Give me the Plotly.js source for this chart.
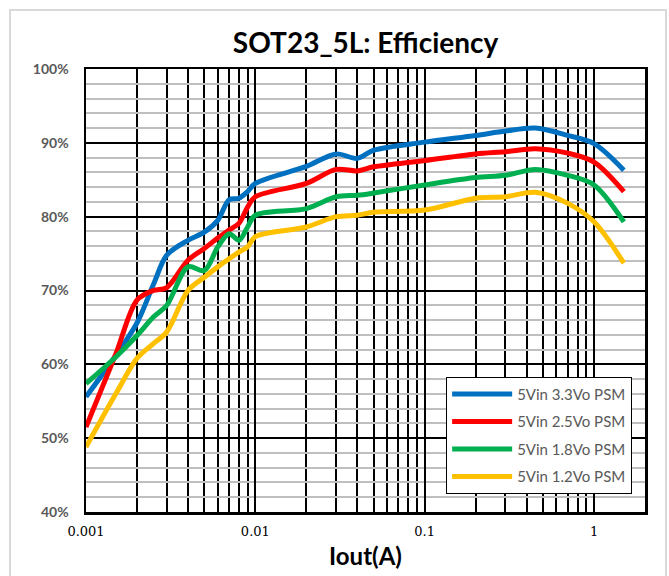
<!DOCTYPE html>
<html>
<head>
<meta charset="utf-8">
<script src="https://cdn.plot.ly/plotly-3.0.1.min.js"></script>
<style>
  html, body { margin: 0; padding: 0; background: #ffffff; }
  #frame { position: absolute; left: 9px; top: 9px; width: 654px; height: 620px; border: 2px solid #d9d9d9; }
  #chart { position: absolute; left: 0; top: 0; width: 669px; height: 576px; }
</style>
</head>
<body>
<div id="frame"></div>
<div id="chart"></div>
<script>
// Load current (A)
const iout = [0.001, 0.0015, 0.002, 0.0025, 0.003, 0.004, 0.005, 0.006, 0.007, 0.008, 0.009, 0.01,
              0.02, 0.03, 0.04, 0.05, 0.1, 0.2, 0.3, 0.45, 0.7, 1, 1.5];
// Efficiency (%)
const eff33 = [55.6, 61.2, 65.6, 70.8, 74.8, 76.8, 77.9, 79.5, 82.3, 82.5, 83.4, 84.5,
               86.8, 88.5, 87.9, 89.0, 90.1, 91.0, 91.6, 92.0, 91.0, 89.9, 86.3];
const eff25 = [51.5, 61.4, 68.7, 70.0, 70.4, 74.1, 75.7, 77.1, 78.2, 79.1, 81.3, 82.7,
               84.5, 86.4, 86.2, 86.75, 87.6, 88.5, 88.8, 89.2, 88.6, 87.4, 83.4];
const eff18 = [57.4, 61.0, 63.9, 66.4, 68.0, 73.2, 72.7, 75.9, 77.7, 76.8, 78.6, 80.2,
               81.1, 82.7, 82.9, 83.2, 84.3, 85.3, 85.6, 86.4, 85.6, 84.3, 79.3];
const eff12 = [48.8, 56.0, 60.8, 62.8, 64.4, 70.0, 71.8, 73.2, 74.3, 75.2, 75.9, 77.3,
               78.6, 80.0, 80.2, 80.6, 80.9, 82.5, 82.7, 83.3, 81.8, 79.3, 73.7];

const seriesNames = ["5Vin 3.3Vo PSM", "5Vin 2.5Vo PSM", "5Vin 1.8Vo PSM", "5Vin 1.2Vo PSM"];
const seriesColors = ["#0070C0", "#FF0000", "#00B050", "#FFC000"];
const xTickVals = [0.001, 0.01, 0.1, 1];
const xTickText = ["0.001", "0.01", "0.1", "1"];

const ys = [eff33, eff25, eff18, eff12];
const traces = ys.map((y, i) => ({
  x: iout, y: y, type: "scatter", mode: "lines",
  name: seriesNames[i], legendgroup: "g" + i,
  line: { color: seriesColors[i], width: 5, shape: "spline", smoothing: 0.9 }
}));

const layout = {
  width: 669, height: 576,
  paper_bgcolor: "rgba(0,0,0,0)",
  plot_bgcolor: "#ffffff",
  margin: { l: 86, r: 24, t: 69, b: 64 },
  title: {
    text: "<b>SOT23_5L: Efficiency</b>",
    font: { family: "Lato, 'Open Sans', sans-serif", size: 28, color: "#000000" },
    x: 0.5465, xanchor: "center", y: 0.925, yanchor: "middle"
  },
  xaxis: {
    type: "log",
    range: [Math.log10(0.001), Math.log10(2)],
    tickvals: xTickVals, ticktext: xTickText,
    tickfont: { family: "'DejaVu Serif', 'Liberation Serif', serif", size: 13, color: "#000000" },
    ticks: "", ticklabelstandoff: 6,
    showgrid: true, gridcolor: "#000000", gridwidth: 2,
    minor: { dtick: "D1", showgrid: true, gridcolor: "#000000", gridwidth: 2, ticks: "" },
    showline: true, linecolor: "#000000", linewidth: 2.5, mirror: true,
    zeroline: false,
    title: { text: "<b>Iout(A)</b>", font: { family: "Lato, 'Open Sans', sans-serif", size: 24, color: "#000000" }, standoff: 10 }
  },
  yaxis: {
    range: [40, 100],
    dtick: 10, tick0: 40,
    ticksuffix: "%",
    tickfont: { family: "Lato, 'Open Sans', sans-serif", size: 14, color: "#595959", weight: "bold" },
    ticks: "", ticklabelstandoff: 12,
    showgrid: true, gridcolor: "#000000", gridwidth: 2,
    minor: { dtick: 2, showgrid: true, gridcolor: "#bfbfbf", gridwidth: 2, ticks: "" },
    showline: true, linecolor: "#000000", linewidth: 2.5, mirror: true,
    zeroline: false
  },
  showlegend: true,
  legend: {
    x: 0.977, xanchor: "right", y: 0.041, yanchor: "bottom",
    bgcolor: "#ffffff", bordercolor: "#000000", borderwidth: 1,
    font: { family: "Lato, 'Open Sans', sans-serif", size: 15, color: "#595959" },
    traceorder: "grouped", tracegroupgap: 5, itemwidth: 60
  }
};

Plotly.newPlot("chart", traces, layout, { displayModeBar: false, staticPlot: true });
</script>
</body>
</html>
